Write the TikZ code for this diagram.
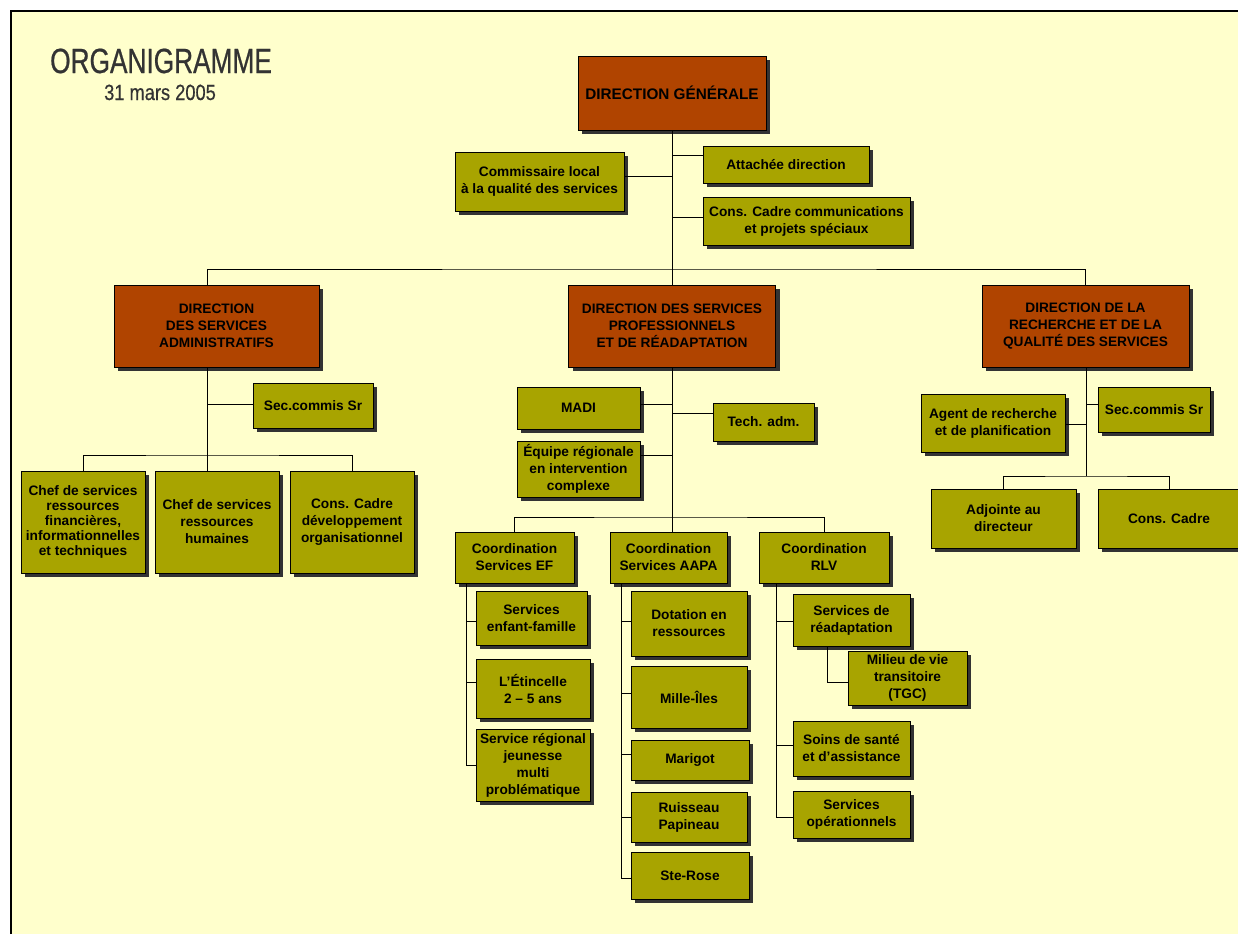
\documentclass[tikz,border=0pt]{standalone}
\usepackage{fontspec}
\setmainfont{Liberation Sans}
\newfontfamily\titlefont[FakeStretch=0.75, FakeBold=0.6]{Liberation Sans}
\newfontfamily\datefont[FakeStretch=0.83, FakeBold=0.5]{Liberation Sans}
\usetikzlibrary{shadows}
\definecolor{orgbg}{HTML}{FFFFCC}
\definecolor{orgolive}{HTML}{A8A400}
\definecolor{orgrust}{HTML}{B04400}
\definecolor{orgshadow}{HTML}{333333}
\definecolor{orgtitle}{HTML}{333333}

\begin{document}
\begin{tikzpicture}[x=1pt, y=-1pt,
    unit/.style={draw=black, line width=0.9pt, fill=orgolive, align=center, inner sep=0pt,
        font=\fontsize{13.7}{17}\selectfont\bfseries,
        drop shadow={shadow xshift=4pt, shadow yshift=-4pt, fill=orgshadow, opacity=1}},
    dir/.style={unit, fill=orgrust},
    boxsize/.style 2 args={minimum width=#1pt, minimum height=#2pt},
    link/.style={line width=0.8pt, black},
]
    \useasboundingbox (0,0) rectangle (1238,934);
    \fill[orgbg] (11,11) rectangle (1238,934);
    \draw[line width=1.4pt] (11,934) -- (11,11) -- (1238,11);

    % title
    \node[anchor=base west, inner sep=0pt, text=orgtitle,
        font=\titlefont\fontsize{35}{40}\selectfont] (title) at (50,73) {ORGANIGRAMME};
    \node[anchor=base west, inner sep=0pt, text=orgtitle,
        font=\datefont\fontsize{22}{26}\selectfont] (date) at (104,100) {31 mars 2005};

    % direction generale
    \node[dir, boxsize={188}{74}, font=\fontsize{15.3}{18}\selectfont\bfseries] (dg) at (672,93) {DIRECTION GÉNÉRALE};
    \node[unit, boxsize={169}{59}] (commiss) at (539.5,181.5) {Commissaire local\\à la qualité des services};
    \node[unit, boxsize={166}{37}] (attach) at (786,164.5) {Attachée direction};
    \node[unit, boxsize={207}{48}] (conscomm) at (806.5,221) {Cons. Cadre communications\\et projets spéciaux};

    % three directions
    \node[dir, boxsize={205}{82}] (dsa) at (216.5,326) {DIRECTION\\DES SERVICES\\ADMINISTRATIFS};
    \node[dir, boxsize={207}{82}] (dsp) at (672,326) {DIRECTION DES SERVICES\\PROFESSIONNELS\\ET DE RÉADAPTATION};
    \node[dir, boxsize={207}{82}] (dsr) at (1085.5,326) {DIRECTION DE LA\\RECHERCHE ET DE LA\\QUALITÉ DES SERVICES};

    % services administratifs
    \node[unit, boxsize={120}{45}] (sec1) at (313,405.5) {Sec.commis Sr};
    \node[unit, boxsize={124}{102}, font=\fontsize{13.7}{15}\selectfont\bfseries] (fin) at (83,522)
        {Chef de services\\ressources\\financières,\\informationnelles\\et techniques};
    \node[unit, boxsize={124}{102}] (rh) at (217,522) {Chef de services\\ressources\\humaines};
    \node[unit, boxsize={124}{102}] (cdo) at (352,522) {Cons. Cadre\\développement\\organisationnel};

    % services professionnels
    \node[unit, boxsize={123}{42}] (madi) at (578.5,408) {MADI};
    \node[unit, boxsize={101}{38}] (tech) at (763.5,422) {Tech. adm.};
    \node[unit, boxsize={123}{56}] (equipe) at (578.5,469) {Équipe régionale\\en intervention\\complexe};
    \node[unit, boxsize={119}{51}] (cef) at (514.5,557.5) {Coordination\\Services EF};
    \node[unit, boxsize={117}{51}] (caapa) at (668.5,557.5) {Coordination\\Services AAPA};
    \node[unit, boxsize={130}{51}] (crlv) at (824,557.5) {Coordination\\RLV};

    \node[unit, boxsize={111}{54}] (sef) at (531.5,618) {Services\\enfant-famille};
    \node[unit, boxsize={114}{59}] (etin) at (533,688.5) {L’Étincelle\\2 – 5 ans};
    \node[unit, boxsize={114}{72}] (srj) at (533,765) {Service régional\\jeunesse\\multi\\problématique};

    \node[unit, boxsize={116}{65}] (dot) at (689,623.5) {Dotation en\\ressources};
    \node[unit, boxsize={116}{62}] (mille) at (689,697) {Mille-Îles};
    \node[unit, boxsize={118}{40}] (mari) at (690,760) {Marigot};
    \node[unit, boxsize={116}{50}] (ruis) at (689,817) {Ruisseau\\Papineau};
    \node[unit, boxsize={118}{47}] (ster) at (690,875.5) {Ste-Rose};

    \node[unit, boxsize={117}{52}] (rea) at (851.5,620) {Services de\\réadaptation};
    \node[unit, boxsize={119}{54}] (milieu) at (907.5,678) {Milieu de vie\\transitoire\\(TGC)};
    \node[unit, boxsize={117}{55}] (soins) at (851.5,748.5) {Soins de santé\\et d’assistance};
    \node[unit, boxsize={117}{47}] (ops) at (851.5,814.5) {Services\\opérationnels};

    % recherche et qualite
    \node[unit, boxsize={112}{45}] (sec3) at (1154,409.5) {Sec.commis Sr};
    \node[unit, boxsize={144}{58}] (agent) at (993,423) {Agent de recherche\\et de planification};
    \node[unit, boxsize={145}{59}] (adj) at (1003.5,518.5) {Adjointe au\\directeur};
    \node[unit, boxsize={142}{59}] (cadre) at (1169,518.5) {Cons. Cadre};

    % junctions on the trunks
    \coordinate (dgbus) at (672,269);
    \coordinate (jComm) at (672,176);
    \coordinate (jAtt) at (672,155);
    \coordinate (jCons) at (672,217);
    \coordinate (admbus) at (207,455);
    \coordinate (jSec1) at (207,404);
    \coordinate (profbus) at (672,517);
    \coordinate (jMadi) at (672,404);
    \coordinate (jTech) at (672,413);
    \coordinate (jEquipe) at (672,455);
    \coordinate (efEnd) at (466,765);
    \coordinate (jSef) at (466,621);
    \coordinate (jEtin) at (466,682);
    \coordinate (aapaEnd) at (621,878);
    \coordinate (jDot) at (621,621);
    \coordinate (jMille) at (621,693);
    \coordinate (jMari) at (621,754);
    \coordinate (jRuis) at (621,817);
    \coordinate (rlvEnd) at (776,817);
    \coordinate (jRea) at (776,621);
    \coordinate (jSoins) at (776,745);
    \coordinate (milJ) at (827,682);
    \coordinate (resBus) at (1086,476);
    \coordinate (jSec3) at (1086,404);
    \coordinate (jAgent) at (1086,424);

    % connectors
    \draw[link] (dg) -- (dsp);
    \draw[link] (commiss.east |- jComm) -- (jComm);
    \draw[link] (jAtt) -- (attach.west |- jAtt);
    \draw[link] (jCons) -- (conscomm.west |- jCons);
    \draw[link] ([xshift=-9.5pt]dsa.north) |- (dgbus) -| (dsr.north);

    \draw[link] ([xshift=-9.5pt]dsa.south) -- ([xshift=-10pt]rh.north);
    \draw[link] (fin.north) |- (admbus) -| (cdo.north);
    \draw[link] (jSec1) -- (sec1.west |- jSec1);

    \draw[link] (dsp.south) -- (dsp.south |- caapa.north);
    \draw[link] (cef.north) |- (profbus) -| (crlv.north);
    \draw[link] (madi.east |- jMadi) -- (jMadi);
    \draw[link] (jTech) -- (tech.west |- jTech);
    \draw[link] (equipe.east |- jEquipe) -- (jEquipe);

    \draw[link] (efEnd |- cef.south) -- (efEnd) -- (srj.west |- efEnd);
    \draw[link] (jSef) -- (sef.west |- jSef);
    \draw[link] (jEtin) -- (etin.west |- jEtin);

    \draw[link] (aapaEnd |- caapa.south) -- (aapaEnd) -- (ster.west |- aapaEnd);
    \draw[link] (jDot) -- (dot.west |- jDot);
    \draw[link] (jMille) -- (mille.west |- jMille);
    \draw[link] (jMari) -- (mari.west |- jMari);
    \draw[link] (jRuis) -- (ruis.west |- jRuis);

    \draw[link] (rlvEnd |- crlv.south) -- (rlvEnd) -- (ops.west |- rlvEnd);
    \draw[link] (jRea) -- (rea.west |- jRea);
    \draw[link] (jSoins) -- (soins.west |- jSoins);
    \draw[link] (milJ |- rea.south) -- (milJ) -- (milieu.west |- milJ);

    \draw[link] (resBus |- dsr.south) -- (resBus);
    \draw[link] (adj.north) |- (resBus) -| (cadre.north);
    \draw[link] (jSec3) -- (sec3.west |- jSec3);
    \draw[link] (agent.east |- jAgent) -- (jAgent);
\end{tikzpicture}
\end{document}
